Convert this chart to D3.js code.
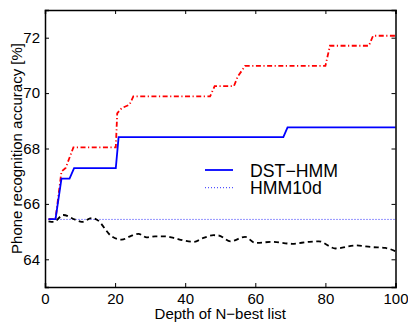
<!DOCTYPE html>
<html>
<head>
<meta charset="utf-8">
<script src="https://cdn.jsdelivr.net/npm/d3@7"></script>
<style>
  body { margin: 0; background: #fff; }
  text { font-family: "Liberation Sans", Arial, sans-serif; fill: #000; }
</style>
</head>
<body>
<script>
// Data
const dstX = [1, 3, 4.7, 7, 8.3, 20.2, 21, 68, 69.2, 100];
const dstY = [65.45, 65.45, 66.91, 66.91, 67.29, 67.29, 68.41, 68.41, 68.76, 68.76];

const redX = [1, 3, 4.7, 5.9, 8.1, 20.2, 20.6, 21.9, 24.1, 25.2, 47.1, 48.4, 53.9, 55, 57.1, 80, 81.3, 92.4, 93.6, 100];
const redY = [65.45, 65.45, 67.17, 67.3, 68.04, 68.04, 69.27, 69.46, 69.58, 69.88, 69.88, 70.25, 70.25, 70.6, 70.98, 70.98, 71.71, 71.71, 72.07, 72.07];

const blackX = [1, 2.5, 5.2, 8.6, 10.5, 13.3, 14.8, 19, 21.9, 24.3, 26.7, 29, 31.4, 34.3, 36.7, 39.5, 42.4, 45.2, 48.1, 49.5, 52.9, 57.1, 60, 64.8, 70.5, 75.2, 78.1, 82.9, 88.6, 93.3, 97.1, 100];
const blackY = [65.37, 65.35, 65.6, 65.43, 65.35, 65.49, 65.43, 64.83, 64.71, 64.83, 64.92, 64.79, 64.83, 64.83, 64.77, 64.68, 64.63, 64.77, 64.87, 64.86, 64.65, 64.81, 64.59, 64.63, 64.56, 64.63, 64.65, 64.39, 64.5, 64.44, 64.41, 64.29];

const hmmX = [1, 100];
const hmmY = [65.44, 65.44];

const xTicks = [0, 20, 40, 60, 80, 100];
const yTicks = [64, 66, 68, 70, 72];
const legendLabels = ['DST\u2212HMM', 'HMM10d'];

const width = 408, height = 323;
const margin = { top: 10, right: 12.5, bottom: 36, left: 45 };
const iw = width - margin.left - margin.right;
const ih = height - margin.top - margin.bottom;

const svg = d3.select('body')
    .append('svg')
    .attr('width', width)
    .attr('height', height);

const g = svg.append('g')
    .attr('transform', `translate(${margin.left},${margin.top})`);

const x = d3.scaleLinear().domain([0, 100]).range([0, iw]);
const y = d3.scaleLinear().domain([63, 73]).range([ih, 0]);

const zip = (xs, ys) => xs.map((v, i) => [v, ys[i]]);
const line = d3.line().x(d => x(d[0])).y(d => y(d[1]));
const smooth = d3.line().x(d => x(d[0])).y(d => y(d[1])).curve(d3.curveMonotoneX);

// Series
g.append('path')
    .attr('d', line(zip(hmmX, hmmY)))
    .attr('fill', 'none')
    .attr('stroke', '#2b2bff')
    .attr('stroke-width', 1)
    .attr('stroke-dasharray', '1,2');

g.append('path')
    .attr('d', smooth(zip(blackX, blackY)))
    .attr('fill', 'none')
    .attr('stroke', '#000')
    .attr('stroke-width', 1.8)
    .attr('stroke-dasharray', '5,3.5');

g.append('path')
    .attr('d', line(zip(redX, redY)))
    .attr('fill', 'none')
    .attr('stroke', '#ff0000')
    .attr('stroke-width', 1.8)
    .attr('stroke-dasharray', '5,2.5,1.2,2.5');

g.append('path')
    .attr('d', line(zip(dstX, dstY)))
    .attr('fill', 'none')
    .attr('stroke', '#0000ff')
    .attr('stroke-width', 1.8);

// Axes (box with inward ticks)
const fmt = d3.format('d');
const axB = g.append('g').attr('transform', `translate(0,${ih})`)
    .call(d3.axisBottom(x).tickValues(xTicks).tickSize(-4).tickPadding(6).tickFormat(fmt));
const axT = g.append('g')
    .call(d3.axisTop(x).tickValues(xTicks).tickSize(-4).tickFormat(''));
const axL = g.append('g')
    .call(d3.axisLeft(y).tickValues(yTicks).tickSize(-4).tickPadding(5).tickFormat(fmt));
const axR = g.append('g').attr('transform', `translate(${iw},0)`)
    .call(d3.axisRight(y).tickValues(yTicks).tickSize(-4).tickFormat(''));

[axB, axT, axL, axR].forEach(a => {
    a.select('.domain').attr('stroke', '#000').attr('stroke-width', 1.5);
    a.selectAll('.tick line').attr('stroke', '#000');
    a.selectAll('.tick text').style('font-size', '15px')
        .style('font-family', '"Liberation Sans", Arial, sans-serif');
});

// Axis labels
svg.append('text')
    .attr('x', margin.left + iw / 2)
    .attr('y', 318.5)
    .attr('text-anchor', 'middle')
    .style('font-size', '15px')
    .text('Depth of N\u2212best list');

svg.append('text')
    .attr('transform', `translate(21.5,${margin.top + ih / 2}) rotate(-90)`)
    .attr('text-anchor', 'middle')
    .style('font-size', '15px')
    .text('Phone recognition accuracy [%]');

// Legend
const legend = svg.append('g');
const legY = [170, 187.7];
legend.append('line')
    .attr('x1', 205).attr('x2', 233).attr('y1', legY[0]).attr('y2', legY[0])
    .attr('stroke', '#0000ff').attr('stroke-width', 1.8);
legend.append('line')
    .attr('x1', 205).attr('x2', 233).attr('y1', legY[1]).attr('y2', legY[1])
    .attr('stroke', '#2b2bff').attr('stroke-width', 1).attr('stroke-dasharray', '1,2');
legendLabels.forEach((t, i) => {
    legend.append('text')
        .attr('x', 250)
        .attr('y', legY[i] + 6.6)
        .style('font-size', '17.7px')
        .text(t);
});
</script>
</body>
</html>
